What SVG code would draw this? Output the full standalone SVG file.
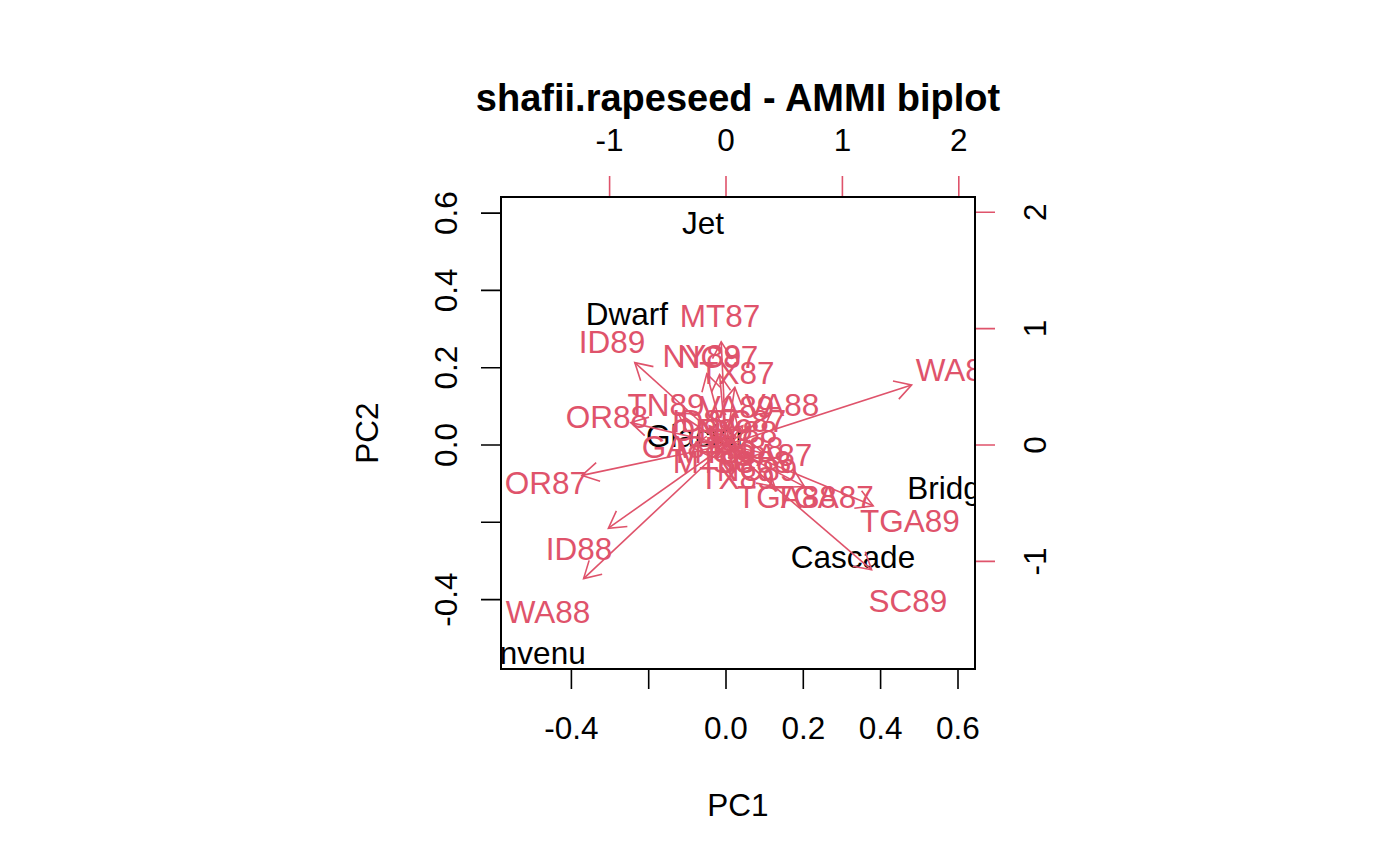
<svg xmlns="http://www.w3.org/2000/svg" width="1400" height="866" viewBox="0 0 1400 866">
<style>
text{font-family:"Liberation Sans",Arial,Helvetica,sans-serif;font-size:31.5px;text-anchor:middle}
.title{font-weight:bold;font-size:38px}
.red{fill:#DF536B}
.blk{fill:#000}
.tk{stroke:#000;stroke-width:1.6;fill:none}
.tkr{stroke:#DF536B;stroke-width:1.6;fill:none}
.arr{stroke:#DF536B;stroke-width:1.6;fill:none;marker-end:url(#ah)}
</style>
<defs>
<marker id="ah" markerUnits="userSpaceOnUse" orient="auto" markerWidth="40" markerHeight="40" refX="0" refY="0" viewBox="-20 -20 40 40" overflow="visible">
<path d="M -16.5,-9.5 L 0,0 L -16.5,9.5" fill="none" stroke="#DF536B" stroke-width="1.6"/>
</marker>
<clipPath id="pc"><rect x="501" y="197" width="474" height="472"/></clipPath>
</defs>
<rect width="1400" height="866" fill="#fff"/>
<text class="title" x="738" y="111">shafii.rapeseed - AMMI biplot</text>
<g id="axis-bottom">
<path class="tk" d="M571.4,669V689M648.7,669V689M726,669V689M803.3,669V689M880.6,669V689M958,669V689"/>
<text x="571.4" y="739">-0.4</text><text x="726" y="739">0.0</text><text x="803.3" y="739">0.2</text><text x="880.6" y="739">0.4</text><text x="958" y="739">0.6</text>
</g>
<g id="axis-left">
<path class="tk" d="M501,213.1H481M501,290.4H481M501,367.7H481M501,445H481M501,522.3H481M501,599.6H481"/>
<text transform="translate(457,213.1) rotate(-90)">0.6</text>
<text transform="translate(457,290.4) rotate(-90)">0.4</text>
<text transform="translate(457,367.7) rotate(-90)">0.2</text>
<text transform="translate(457,445) rotate(-90)">0.0</text>
<text transform="translate(457,599.6) rotate(-90)">-0.4</text>
</g>
<g id="axis-top">
<path class="tkr" d="M609.6,197H958.8M609.6,197V176M726,197V176M842.4,197V176M958.8,197V176"/>
<text x="609.6" y="151">-1</text><text x="726" y="151">0</text><text x="842.4" y="151">1</text><text x="958.8" y="151">2</text>
</g>
<g id="axis-right">
<path class="tkr" d="M975,212.2V561.4M975,212.2H995M975,328.6H995M975,445H995M975,561.4H995"/>
<text transform="translate(1046,212.2) rotate(-90)">2</text>
<text transform="translate(1046,328.6) rotate(-90)">1</text>
<text transform="translate(1046,445) rotate(-90)">0</text>
<text transform="translate(1046,561.4) rotate(-90)">-1</text>
</g>
<text x="738" y="816">PC1</text>
<text transform="translate(378,433) rotate(-90)">PC2</text>
<g clip-path="url(#pc)">
<g id="genotypes" class="blk">
<text id="g-jet" x="703" y="234">Jet</text>
<text id="g-dwarf" x="627" y="325">Dwarf</text>
<text id="g-glacier" x="696" y="447">Glacier</text>
<text id="g-bridger" x="958" y="499">Bridger</text>
<text id="g-cascade" x="853" y="568">Cascade</text>
<text id="g-bienvenu" x="520" y="664">Bienvenu</text>
</g>
<g id="environments" class="red">
<text id="e-wa89" x="958" y="381">WA89</text>
<text id="e-or87" x="546" y="494">OR87</text>
<text id="e-id88" x="579" y="560">ID88</text>
<text id="e-wa88" x="548" y="623">WA88</text>
<text id="e-id89" x="612" y="353">ID89</text>
<text id="e-mt87" x="720" y="327">MT87</text>
<text id="e-or88" x="607" y="428">OR88</text>
<text id="e-tga89" x="910" y="532">TGA89</text>
<text id="e-sc89" x="908" y="612">SC89</text>
<text id="e-ny89" x="702" y="367">NY89</text>
<text id="e-nc87" x="718" y="368">NC87</text>
<text id="e-tx87" x="737" y="384">TX87</text>
<text id="e-tn89" x="666" y="416">TN89</text>
<text id="e-va88" x="782" y="416">VA88</text>
<text id="e-va89" x="737" y="418">VA89</text>
<text id="e-sc87" x="747" y="432">SC87</text>
<text id="e-id87" x="705" y="432">ID87</text>
<text id="e-ga88" x="682" y="458">GA88</text>
<text id="e-ga87" x="772" y="466">GA87</text>
<text id="e-mt88" x="713" y="473">MT88</text>
<text id="e-tx89" x="737" y="489">TX89</text>
<text id="e-nc89" x="757" y="481">NC89</text>
<text id="e-tga88" x="787" y="508">TGA88</text>
<text id="e-tga87" x="824" y="508">TGA87</text>
<text id="e-ny88" x="738" y="443">NY88</text>
<text id="e-mt89" x="716" y="463">MT89</text>
<text id="e-sc88" x="752" y="473">SC88</text>
<text id="e-or89" x="712" y="441">OR89</text>
<text id="e-tn88" x="745" y="459">TN88</text>
</g>
<g id="connectors">
<line class="arr" x1="726" y1="445" x2="911.6" y2="385"/>
<line class="arr" x1="726" y1="445" x2="582" y2="475.4"/>
<line class="arr" x1="726" y1="445" x2="608.4" y2="528.2"/>
<line class="arr" x1="726" y1="445" x2="583.6" y2="578.6"/>
<line class="arr" x1="726" y1="445" x2="634.8" y2="362.6"/>
<line class="arr" x1="726" y1="445" x2="721.2" y2="341.8"/>
<line class="arr" x1="726" y1="445" x2="630.8" y2="422.6"/>
<line class="arr" x1="726" y1="445" x2="873.2" y2="505.8"/>
<line class="arr" x1="726" y1="445" x2="871.6" y2="569.8"/>
<line class="arr" x1="726" y1="445" x2="706.8" y2="373.8"/>
<line class="arr" x1="726" y1="445" x2="719.6" y2="374.6"/>
<line class="arr" x1="726" y1="445" x2="734.8" y2="387.4"/>
<line class="arr" x1="726" y1="445" x2="678" y2="413"/>
<line class="arr" x1="726" y1="445" x2="770.8" y2="413"/>
<line class="arr" x1="726" y1="445" x2="734.8" y2="414.6"/>
<line class="arr" x1="726" y1="445" x2="742.8" y2="425.8"/>
<line class="arr" x1="726" y1="445" x2="709.2" y2="425.8"/>
<line class="arr" x1="726" y1="445" x2="690.8" y2="446.6"/>
<line class="arr" x1="726" y1="445" x2="762.8" y2="453"/>
<line class="arr" x1="726" y1="445" x2="715.6" y2="458.6"/>
<line class="arr" x1="726" y1="445" x2="734.8" y2="471.4"/>
<line class="arr" x1="726" y1="445" x2="750.8" y2="465"/>
<line class="arr" x1="726" y1="445" x2="774.8" y2="486.6"/>
<line class="arr" x1="726" y1="445" x2="804.4" y2="486.6"/>
<line class="arr" x1="726" y1="445" x2="735.6" y2="434.6"/>
<line class="arr" x1="726" y1="445" x2="718" y2="450.6"/>
<line class="arr" x1="726" y1="445" x2="746.8" y2="458.6"/>
<line class="arr" x1="726" y1="445" x2="714.8" y2="433"/>
<line class="arr" x1="726" y1="445" x2="741.2" y2="447.4"/>
</g>
</g>
<rect id="box" x="501" y="197" width="474" height="472" fill="none" stroke="#000" stroke-width="2"/>
</svg>
